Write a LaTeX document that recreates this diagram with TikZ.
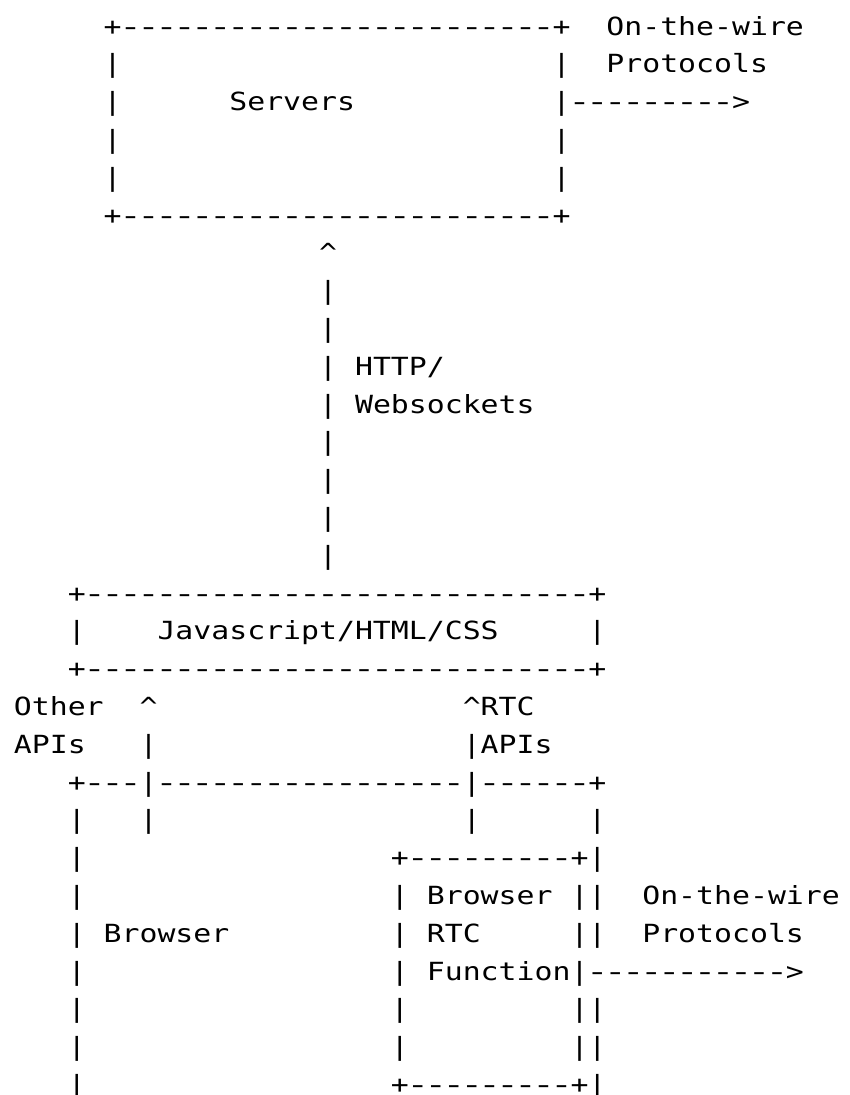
\documentclass[tikz,border=0pt]{standalone}
\usepackage{fontspec}
\usepackage{graphicx}
\setmonofont[FakeStretch=1.193]{DejaVu Sans Mono}
\newcommand\asciifont{\ttfamily\fontsize{25}{30}\selectfont}
\newcommand\caret{\textasciicircum}
\newcommand\vb{\makebox[17.955pt][c]{|}}
\newcommand\dsh{\makebox[17.955pt][c]{\scalebox{1.25}[1]{-}}}
\newcommand\pl{+}
\newcommand\dashes[1]{\foreach \i in {1,...,#1}{\dsh}}
\tikzset{asc/.style={anchor=base west, inner sep=0pt, outer sep=0pt, font=\asciifont, text=black}}
\newcommand\asciiseg[4]{\node[asc] (#1) at ({13.9+#2*17.955},{110.7+(#3-3)*37.8}) {#4};}
\begin{document}
\begin{tikzpicture}[x=1pt,y=-1pt]
\fill[white] (0,0) rectangle (849,1095);
\useasboundingbox (0,0) rectangle (849,1095);
% Servers box
\asciiseg{r1a}{5}{1}{\pl\dashes{24}\pl}
\asciiseg{r1b}{33}{1}{On-the-wire}
\asciiseg{r2a}{5}{2}{\vb}
\asciiseg{r2b}{30}{2}{\vb}
\asciiseg{r2c}{33}{2}{Protocols}
\asciiseg{r3a}{5}{3}{\vb}
\asciiseg{r3b}{12}{3}{Servers}
\asciiseg{r3c}{30}{3}{\vb\dashes{9}>}
\asciiseg{r4a}{5}{4}{\vb}
\asciiseg{r4b}{30}{4}{\vb}
\asciiseg{r5a}{5}{5}{\vb}
\asciiseg{r5b}{30}{5}{\vb}
\asciiseg{r6a}{5}{6}{\pl\dashes{24}\pl}
% HTTP link
\asciiseg{r7a}{17}{7}{\caret}
\asciiseg{r8a}{17}{8}{\vb}
\asciiseg{r9a}{17}{9}{\vb}
\asciiseg{r10a}{17}{10}{\vb}
\asciiseg{r10b}{19}{10}{HTTP/}
\asciiseg{r11a}{17}{11}{\vb}
\asciiseg{r11b}{19}{11}{Websockets}
\asciiseg{r12a}{17}{12}{\vb}
\asciiseg{r13a}{17}{13}{\vb}
\asciiseg{r14a}{17}{14}{\vb}
\asciiseg{r15a}{17}{15}{\vb}
% Javascript box
\asciiseg{r16a}{3}{16}{\pl\dashes{28}\pl}
\asciiseg{r17a}{3}{17}{\vb}
\asciiseg{r17b}{8}{17}{Javascript/HTML/CSS}
\asciiseg{r17c}{32}{17}{\vb}
\asciiseg{r18a}{3}{18}{\pl\dashes{28}\pl}
% APIs
\asciiseg{r19a}{0}{19}{Other}
\asciiseg{r19b}{7}{19}{\caret}
\asciiseg{r19c}{25}{19}{\caret RTC}
\asciiseg{r20a}{0}{20}{APIs}
\asciiseg{r20b}{7}{20}{\vb}
\asciiseg{r20c}{25}{20}{\vb APIs}
% Browser box
\asciiseg{r21a}{3}{21}{\pl\dashes{3}\vb\dashes{17}\vb\dashes{6}\pl}
\asciiseg{r22a}{3}{22}{\vb}
\asciiseg{r22b}{7}{22}{\vb}
\asciiseg{r22c}{25}{22}{\vb}
\asciiseg{r22d}{32}{22}{\vb}
\asciiseg{r23a}{3}{23}{\vb}
\asciiseg{r23b}{21}{23}{\pl\dashes{9}\pl\vb}
\asciiseg{r24a}{3}{24}{\vb}
\asciiseg{r24b}{21}{24}{\vb}
\asciiseg{r24c}{23}{24}{Browser}
\asciiseg{r24d}{31}{24}{\vb\vb}
\asciiseg{r24e}{35}{24}{On-the-wire}
\asciiseg{r25a}{3}{25}{\vb}
\asciiseg{r25b}{5}{25}{Browser}
\asciiseg{r25c}{21}{25}{\vb}
\asciiseg{r25d}{23}{25}{RTC}
\asciiseg{r25e}{31}{25}{\vb\vb}
\asciiseg{r25f}{35}{25}{Protocols}
\asciiseg{r26a}{3}{26}{\vb}
\asciiseg{r26b}{21}{26}{\vb}
\asciiseg{r26c}{23}{26}{Function\vb\dashes{11}>}
\asciiseg{r27a}{3}{27}{\vb}
\asciiseg{r27b}{21}{27}{\vb}
\asciiseg{r27c}{31}{27}{\vb\vb}
\asciiseg{r28a}{3}{28}{\vb}
\asciiseg{r28b}{21}{28}{\vb}
\asciiseg{r28c}{31}{28}{\vb\vb}
\asciiseg{r29a}{3}{29}{\vb}
\asciiseg{r29b}{21}{29}{\pl\dashes{9}\pl\vb}
\end{tikzpicture}
\end{document}
